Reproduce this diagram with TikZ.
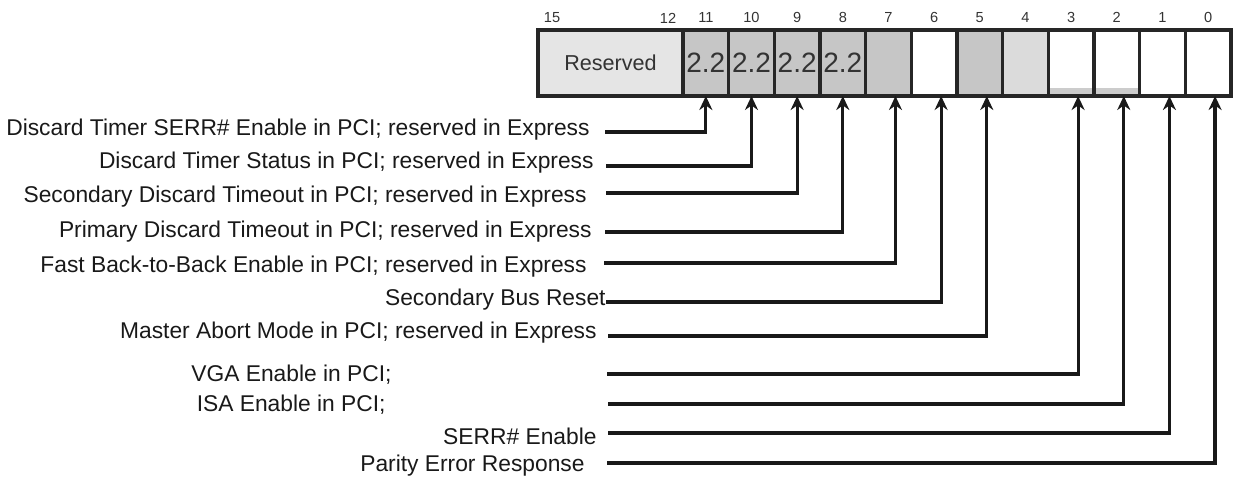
\documentclass[tikz,border=0pt]{standalone}
\usepackage{fontspec}
\setmainfont{Liberation Sans}
\usepackage{xcolor}
\usepackage{tikz}
\usetikzlibrary{arrows.meta, positioning}
\tikzset{
  regcell/.style={
    rectangle, draw=black!85, fill=gray!45, line width=1.7pt,
    minimum width=22.83pt, minimum height=33pt, inner sep=0pt, outer sep=0pt,
    font=\fontsize{14}{16}\selectfont, text=black!80
  },
  rsvcell/.style={
    regcell, fill=gray!20, minimum width=72.5pt,
    font=\fontsize{10.8}{12}\selectfont
  },
  emptycell/.style={regcell, fill=white},
  lightcell/.style={regcell, fill=gray!28},
  patchcell/.style={
    regcell, fill=white,
    path picture={\fill[gray!40] (path picture bounding box.south west) rectangle ([yshift=4pt]path picture bounding box.south east);}
  },
  bitnum/.style={font=\fontsize{7.3}{8}\selectfont, inner sep=0pt, text=black!80},
  fieldlabel/.style={anchor=east, inner sep=0pt, font=\fontsize{11.4}{13}\selectfont, text=black!90},
  bitarrow/.style={-{Stealth[length=7pt,width=6.5pt]}, line width=1.6pt, draw=black!90},
}

\begin{document}
\begin{tikzpicture}[x=0.5pt, y=-0.5pt]
    \useasboundingbox (0,0) rectangle (1233,479);

    %% Register fields
    \node[rsvcell, anchor=north west] (res) at (538,30) {Reserved};
    \node[regcell, right=0pt of res] (b11) {2.2};
    \node[regcell, right=0pt of b11] (b10) {2.2};
    \node[regcell, right=0pt of b10] (b9) {2.2};
    \node[regcell, right=0pt of b9] (b8) {2.2};
    \node[regcell, right=0pt of b8] (b7) {};
    \node[emptycell, right=0pt of b7] (b6) {};
    \node[regcell, right=0pt of b6] (b5) {};
    \node[lightcell, right=0pt of b5] (b4) {};
    \node[patchcell, right=0pt of b4] (b3) {};
    \node[patchcell, right=0pt of b3] (b2) {};
    \node[emptycell, right=0pt of b2] (b1) {};
    \node[emptycell, right=0pt of b1] (b0) {};

    %% Bit numbers
    \node[bitnum] (n15) at ([xshift=7pt, yshift=6pt]res.north west) {15};
    \node[bitnum] (n12) at ([xshift=-7.5pt, yshift=6pt]res.north east) {12};
    \node[bitnum, above=3.5pt of b11] (n11) {11};
    \node[bitnum, above=3.5pt of b10] (n10) {10};
    \node[bitnum, above=3.5pt of b9] (n9) {9};
    \node[bitnum, above=3.5pt of b8] (n8) {8};
    \node[bitnum, above=3.5pt of b7] (n7) {7};
    \node[bitnum, above=3.5pt of b6] (n6) {6};
    \node[bitnum, above=3.5pt of b5] (n5) {5};
    \node[bitnum, above=3.5pt of b4] (n4) {4};
    \node[bitnum, above=3.5pt of b3] (n3) {3};
    \node[bitnum, above=3.5pt of b2] (n2) {2};
    \node[bitnum, above=3.5pt of b1] (n1) {1};
    \node[bitnum, above=3.5pt of b0] (n0) {0};

    %% Field descriptions
    \node[fieldlabel] (l11) at (590,130) {Discard Timer SERR\# Enable in PCI; reserved in Express};
    \node[fieldlabel] (l10) at (594,163) {Discard Timer Status in PCI; reserved in Express};
    \node[fieldlabel] (l9) at (587,197) {Secondary Discard Timeout in PCI; reserved in Express};
    \node[fieldlabel] (l8) at (592,232) {Primary Discard Timeout in PCI; reserved in Express};
    \node[fieldlabel] (l7) at (587,267) {Fast Back-to-Back Enable in PCI; reserved in Express};
    \node[fieldlabel] (l6) at (606,300) {Secondary Bus Reset};
    \node[fieldlabel] (l5) at (597,333) {Master Abort Mode in PCI; reserved in Express};
    \node[fieldlabel] (l3) at (392,375) {VGA Enable in PCI;};
    \node[fieldlabel] (l2) at (386,405) {ISA Enable in PCI;};
    \node[fieldlabel] (l1) at (597,436) {SERR\# Enable};
    \node[fieldlabel] (l0) at (585,466) {Parity Error Response};

    %% Line starts
    \coordinate (s11) at (605,132);
    \coordinate (s10) at (606,166);
    \coordinate (s9) at (606,193);
    \coordinate (s8) at (605,232);
    \coordinate (s7) at (604,263);
    \coordinate (s6) at (606,302);
    \coordinate (s5) at (608,336);
    \coordinate (s3) at (607,374);
    \coordinate (s2) at (608,404);
    \coordinate (s1) at (608,433);
    \coordinate (s0) at (607,463);

    %% Arrows
    \draw[bitarrow] (s11) -| (b11.south);
    \draw[bitarrow] (s10) -| (b10.south);
    \draw[bitarrow] (s9) -| (b9.south);
    \draw[bitarrow] (s8) -| (b8.south);
    \draw[bitarrow] (s7) -| ([xshift=3.5pt]b7.south);
    \draw[bitarrow] (s6) -| ([xshift=3.5pt]b6.south);
    \draw[bitarrow] (s5) -| ([xshift=3.5pt]b5.south);
    \draw[bitarrow] (s3) -| ([xshift=3.5pt]b3.south);
    \draw[bitarrow] (s2) -| ([xshift=3.5pt]b2.south);
    \draw[bitarrow] (s1) -| ([xshift=3.5pt]b1.south);
    \draw[bitarrow] (s0) -| ([xshift=3.5pt]b0.south);

\end{tikzpicture}
\end{document}
